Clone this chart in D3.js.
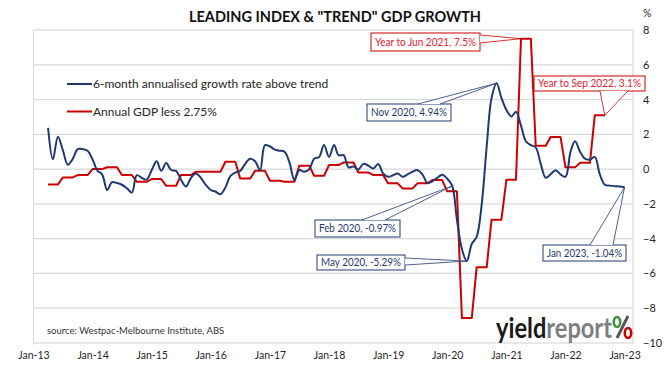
<!DOCTYPE html>
<html><head><meta charset="utf-8">
<script src="https://cdn.jsdelivr.net/npm/d3@7"></script>
<style>
html,body{margin:0;padding:0;background:#fff;}
svg{display:block;font-family:Lato,"Open Sans",sans-serif;}
</style></head>
<body><svg id="c" width="671" height="368"></svg>
<script>
// ---- data ----
const blueStart = [2013, 3]; // Apr 2013 (year, monthIndex)
const blueValues = [2.37,0.56,1.86,1.1,0.25,0.6,1.15,1.15,1.05,0.55,-0.1,-0.3,-1.2,-0.75,-0.8,-0.9,-1.1,-1.35,-0.35,-0.5,-0.6,-0.06,0.45,-0.1,0.35,-0.05,-0.1,-0.6,-1.0,-0.5,-0.25,-0.5,-0.9,-1.2,-1.3,-1.45,-1.05,-0.4,-0.2,-0.1,0.3,0.6,0.45,-0.06,1.38,1.3,1.12,1.06,1.0,0.4,-0.63,-0.06,-0.15,0.0,0.6,0.7,1.38,0.7,1.38,0.8,0.8,0.1,0.15,-0.02,0.3,0.2,0.04,0.3,-0.25,-0.44,-0.35,-0.25,-0.44,-0.3,-0.15,-0.06,-0.3,-0.8,-0.7,-0.5,-0.32,-0.55,-0.97,-2.9,-4.6,-5.29,-4.3,-3.9,-2.05,1.3,4.08,4.94,4.1,3.4,3.03,3.3,2.5,1.6,1.38,1.25,0.3,-0.5,-0.3,-0.06,-0.3,-0.44,1.0,1.6,1.0,0.6,0.55,0.7,-0.3,-0.9,-0.95,-0.98,-1.0,-1.04];
const redStart = [2013, 3]; // first quarter Q2 2013, each value held for its 3 months
const redQuarterly = [-0.88,-0.48,-0.34,0.0,0.11,-0.34,-0.73,-0.57,-0.96,-0.34,-0.15,-0.15,0.42,-0.54,-0.1,-0.67,-0.73,0.19,-0.38,0.23,0.38,-0.19,-0.34,-0.82,-1.11,-0.82,-0.63,-1.28,-8.56,-5.65,-2.91,-0.61,7.5,1.34,1.85,0.1,0.36,3.1];
const yTicks = [-10,-8,-6,-4,-2,0,2,4,6,8];
const xTickYears = [2013,2014,2015,2016,2017,2018,2019,2020,2021,2022,2023];
const seriesNames = ["6-month annualised growth rate above trend","Annual GDP less 2.75%"];
const callouts = [
  {text:"Year to Jun 2021, 7.5%", series:"red", date:[2021,3], value:7.5},
  {text:"Year to Sep 2022, 3.1%", series:"red", date:[2022,8], value:3.1},
  {text:"Nov 2020, 4.94%", series:"blue", date:[2020,10], value:4.94},
  {text:"Feb 2020, -0.97%", series:"blue", date:[2020,1], value:-0.97},
  {text:"May 2020, -5.29%", series:"blue", date:[2020,4], value:-5.29},
  {text:"Jan 2023, -1.04%", series:"blue", date:[2023,0], value:-1.04}
];
const titleText = 'LEADING INDEX & "TREND" GDP GROWTH';
const sourceText = "source: Westpac-Melbourne Institute, ABS";

// ---- build ----
const blue = blueValues.map((v,i)=>({d:new Date(blueStart[0], blueStart[1]+i, 1), v}));
const red = [];
redQuarterly.forEach((v,q)=>{ for(let k=0;k<3;k++) red.push({d:new Date(redStart[0], redStart[1]+q*3+k, 1), v}); });

const C = {blue:"#1f3a73", red:"#cc0000", grid:"#d9d9d9", text:"#262626", redText:"#e8202e"};
const svg = d3.select("#c");
const L=33.5, R=633, T=30, B=343;
const x = d3.scaleTime().domain([new Date(2013,0,1), new Date(2023,1,22)]).range([L,R]);
const y = d3.scaleLinear().domain([-10,8]).range([B,T]);

// gridlines
svg.append("g").selectAll("line").data(yTicks.filter(t=>t>-10&&t<8)).join("line")
  .attr("x1",L).attr("x2",R).attr("y1",d=>y(d)).attr("y2",d=>y(d))
  .attr("stroke",C.grid).attr("stroke-width",1.2);
svg.append("rect").attr("x",L).attr("y",T).attr("width",R-L).attr("height",B-T)
  .attr("fill","none").attr("stroke",C.grid).attr("stroke-width",1.2);

// axes
const yAxis = svg.append("g").attr("transform",`translate(${R},0)`)
  .call(d3.axisRight(y).tickValues(yTicks).tickSize(0).tickPadding(10).tickFormat(d3.format("d")));
yAxis.select(".domain").remove();
yAxis.selectAll("text").attr("font-size",11).attr("fill",C.text).attr("font-family","Lato");
const xAxis = svg.append("g").attr("transform",`translate(0,${B})`)
  .call(d3.axisBottom(x).tickValues(xTickYears.map(yr=>new Date(yr,0,1))).tickSize(0).tickPadding(9).tickFormat(d3.timeFormat("%b-%y")));
xAxis.select(".domain").remove();
xAxis.selectAll("text").attr("font-size",10.5).attr("fill",C.text).attr("font-family","Lato");
svg.append("text").attr("x",643).attr("y",17).attr("font-size",10.5).attr("fill",C.text).text("%");

// title
svg.append("text").attr("x",335).attr("y",22).attr("text-anchor","middle")
  .attr("font-size",14.5).attr("font-weight","bold").attr("fill","#111").text(titleText);

// lines
svg.append("path").datum(red).attr("fill","none").attr("stroke",C.red).attr("stroke-width",2)
  .attr("stroke-linejoin","round")
  .attr("d",d3.line().x(d=>x(d.d)).y(d=>y(d.v)));
svg.append("path").datum(blue).attr("fill","none").attr("stroke",C.blue).attr("stroke-width",2)
  .attr("d",d3.line().x(d=>x(d.d)).y(d=>y(d.v)).curve(d3.curveCatmullRom.alpha(0.5)));

// legend
const lg = svg.append("g");
[[C.blue,84],[C.red,111.5]].forEach(([col,yy],i)=>{
  lg.append("line").attr("x1",67).attr("x2",92).attr("y1",yy).attr("y2",yy).attr("stroke",col).attr("stroke-width",2);
  lg.append("text").attr("x",93).attr("y",yy+4.2).attr("font-size",12).attr("fill",C.text).text(seriesNames[i]);
});

// callouts (box positions + wedge)
const boxes = [
  {b:[371,33,480,51], base:[[480,35],[480,43]]},
  {b:[534,76,645,91], base:[[600,91],[628,91]]},
  {b:[367,104,451,121], base:[[418,104],[440,104]]},
  {b:[315,220,400,237], base:[[362,220],[385,220]]},
  {b:[317,255,405,270], base:[[405,258],[405,265]]},
  {b:[543,245,626,261], base:[[590,245],[613,245]]}
];
callouts.forEach((c,i)=>{
  const {b,base} = boxes[i];
  const col = c.series==="red" ? C.red : C.blue;
  const tcol = c.series==="red" ? C.redText : C.blue;
  const ax = x(new Date(c.date[0], c.date[1], 1)), ay = y(c.value);
  const g = svg.append("g");
  g.append("rect").attr("x",b[0]).attr("y",b[1]).attr("width",b[2]-b[0]).attr("height",b[3]-b[1])
    .attr("fill","#fff").attr("stroke",col).attr("stroke-width",1);
  g.append("path").attr("d",`M${base[0][0]},${base[0][1]}L${ax},${ay}L${base[1][0]},${base[1][1]}`)
    .attr("fill","#fff").attr("stroke",col).attr("stroke-width",0.8);
  g.append("text").attr("x",b[0]+4).attr("y",(b[1]+b[3])/2+3.8)
    .attr("font-size",10.5).attr("fill",tcol)
    .attr("textLength",b[2]-b[0]-8).attr("lengthAdjust","spacingAndGlyphs").text(c.text);
});

// source
svg.append("text").attr("x",47).attr("y",334).attr("font-size",9.5).attr("fill","#333").text(sourceText);

// logo (scaled horizontally to fit its space)
const logoG = svg.append("g");
const logo = logoG.append("text").attr("x",0).attr("y",0).attr("font-size",28).attr("font-weight","bold");
logo.append("tspan").attr("fill","#1a1a1a").text("yield");
logo.append("tspan").attr("fill","#7f7f7f").text("report");
const natW = logo.node().getComputedTextLength() || 137;
logoG.attr("transform",`translate(496,338) scale(${116/natW},1)`);
const pct = svg.append("g");
pct.append("line").attr("x1",617).attr("y1",338).attr("x2",628).attr("y2",316).attr("stroke","#555").attr("stroke-width",3);
pct.append("ellipse").attr("cx",617).attr("cy",322).attr("rx",3.2).attr("ry",5).attr("fill","none").attr("stroke","#3f8f3a").attr("stroke-width",2.6);
pct.append("ellipse").attr("cx",628).attr("cy",333).attr("rx",3.2).attr("ry",5).attr("fill","none").attr("stroke","#cc0000").attr("stroke-width",2.6);
</script></body></html>
